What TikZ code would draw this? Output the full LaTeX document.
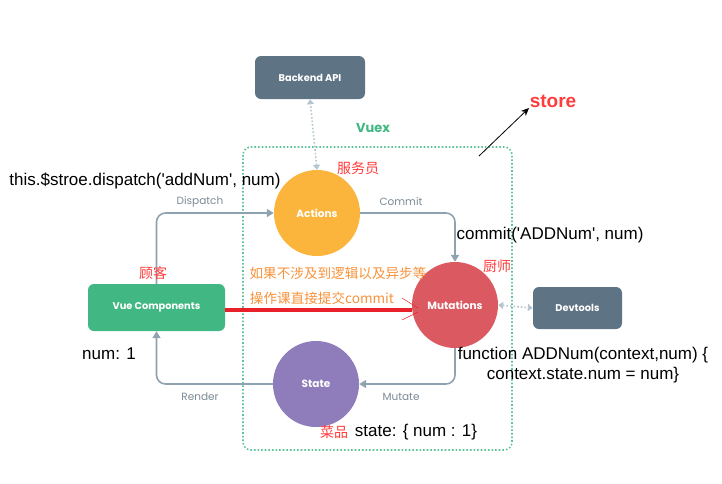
\documentclass[tikz,border=0pt]{standalone}
\usepackage{fontspec}
\setmainfont{Liberation Sans}
\newfontfamily\uifont{Poppins}
\newfontfamily\cjk{Noto Sans CJK SC}
\usetikzlibrary{arrows.meta}
\definecolor{vuegreen}{HTML}{41B883}
\definecolor{slate}{HTML}{5E7384}
\definecolor{actionsc}{HTML}{FBB53C}
\definecolor{mutationsc}{HTML}{DB5A61}
\definecolor{statec}{HTML}{8E7CBB}
\definecolor{flowgrey}{HTML}{8FA2B0}
\definecolor{dotgrey}{HTML}{B4C6CF}
\definecolor{notered}{HTML}{FF3B3B}
\definecolor{noteorange}{HTML}{F7923A}
\definecolor{thickred}{HTML}{E8202A}
\newcommand\sq{\textquotesingle}

\begin{document}
\begin{tikzpicture}[x=1pt,y=-1pt,
  box/.style={rounded corners=6pt,fill=slate,text=white,inner sep=0pt,
    font=\uifont\bfseries\fontsize{9.8}{11}\selectfont},
  circ/.style={circle,minimum size=86pt,inner sep=0pt,text=white,
    font=\uifont\bfseries\fontsize{10.5}{12}\selectfont},
  flow/.style={draw=flowgrey,line width=1.6pt,rounded corners=9pt,
    -{Triangle[length=7pt,width=8pt]}},
  sync/.style={draw=dotgrey,line width=1.6pt,dotted,
    {Triangle[length=5pt,width=7pt]}-{Triangle[length=5pt,width=7pt]}},
  flowlbl/.style={text=flowgrey!85!black,font=\uifont\fontsize{10.5}{12}\selectfont},
  code/.style={font=\fontsize{17}{20}\selectfont,inner sep=0pt},
  who/.style={text=notered,font=\cjk\fontsize{14}{16}\selectfont,inner sep=0pt},
  tip/.style={text=noteorange,font=\cjk\fontsize{13.6}{15}\selectfont,inner sep=0pt}]
  \useasboundingbox (0,0) rectangle (722,483);

  % the store frame
  \draw[vuegreen!85,line width=1.6pt,dotted,rounded corners=8pt] (243,147) rectangle (512,450);
  \node[text=vuegreen,font=\uifont\bfseries\fontsize{13}{15}\selectfont] (vuex) at (373,128) {Vuex};
  \node[text=notered,font=\bfseries\fontsize{19}{22}\selectfont] (store) at (553,101) {store};
  \coordinate (storefoot) at (479,156);
  \coordinate (storetip) at (529,108);
  \draw[line width=0.8pt,-{Stealth[length=8pt,width=7pt]}] (storefoot) -- (storetip);

  % boxes and circles
  \node[box,minimum width=110pt,minimum height=43pt] (backend) at (310,77.5) {Backend API};
  \node[box,minimum width=89pt,minimum height=42pt] (devtools) at (577.5,308) {Devtools};
  \node[box,fill=vuegreen,minimum width=137pt,minimum height=47pt] (vue) at (156.5,307.5) {Vue Components};
  \node[circ,fill=actionsc] (actions) at (317,213) {Actions};
  \node[circ,fill=mutationsc] (mutations) at (455,305) {Mutations};
  \node[circ,fill=statec] (state) at (316,384) {State};

  % the loop
  \draw[flow] (vue.north) |- (actions.west);
  \draw[flow] (actions.east) -| (mutations.north);
  \draw[flow] (mutations.south) |- (state.east);
  \draw[flow] (state.west) -| (vue.south);
  \node[flowlbl] (dispatch) at (200,202) {Dispatch};
  \node[flowlbl] (commit) at (401,202) {Commit};
  \node[flowlbl] (mutate) at (401,397) {Mutate};
  \node[flowlbl] (render) at (200,397) {Render};

  \draw[sync] (actions.north) -- (backend.south);
  \draw[sync] (mutations.east) -- (devtools.west);

  % shortcut straight to mutations
  \coordinate (hand) at (412,310);
  \draw[thickred,line width=3.2pt] ([yshift=-2.5pt]vue.east) -- (hand);
  \draw[thickred,line width=0.5pt] (402,298) -- (418,308);
  \draw[thickred,line width=0.5pt] (402,320) -- (418,312);

  % notes
  \node[code] (dispatchcall) at (145,181) {this.\$stroe.dispatch(\sq addNum\sq, num)};
  \node[code] (commitcall) at (550,235) {commit(\sq ADDNum\sq, num)};
  \node[code,align=center] (mutfn) at (583,365) {function ADDNum(context,num) \{\\context.state.num = num\}};
  \node[code] (num) at (109,354) {num: 1};
  \node[code] (statedef) at (416,432) {state: \{ num : 1\}};
  \node[who] (waiter) at (358,168) {服务员};
  \node[who] (guest) at (153,273) {顾客};
  \node[who] (cook) at (497,266) {厨师};
  \node[who] (dish) at (334,432) {菜品};
  \node[tip] (tip1) at (338,273) {如果不涉及到逻辑以及异步等};
  \node[tip] (tip2) at (322,298) {操作课直接提交commit};
\end{tikzpicture}
\end{document}
